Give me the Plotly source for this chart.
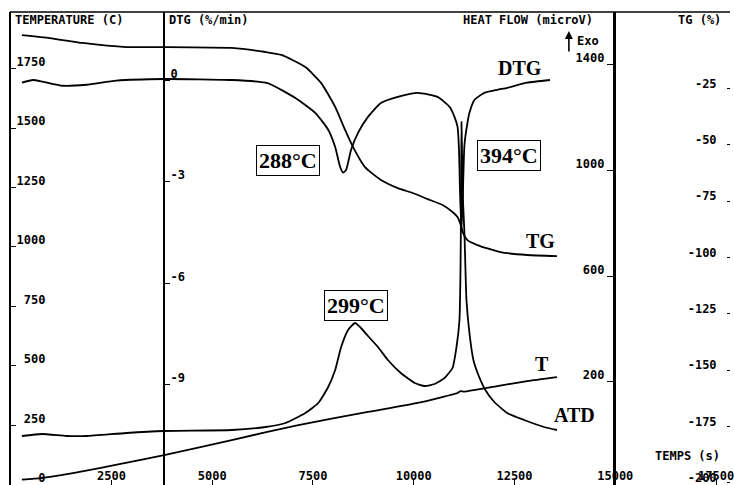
import plotly.graph_objects as go

# ---- data ----
# time axis (s)
t_temp = [279, 772, 1710, 2697, 3807, 5485, 7138, 8865, 10099, 11086, 11160, 11258, 12073, 12813, 13553]
temp = [22, 28, 54, 87, 125, 188, 251, 306, 344, 386, 394, 392, 415, 436, 453]

t_dtg = [279, 550, 797, 1290, 1883, 2623, 3807, 5485, 6324, 6472,
         7064, 7557, 7878, 8051, 8174, 8248, 8322, 8446, 8618, 8865,
         9186, 9605, 10099, 10592, 10888, 11011, 11086, 11123, 11147, 11184,
         11221, 11258, 11332, 11382, 11505, 11752, 12073, 12319, 12813, 13381]
dtg = [-0.07, 0.01, -0.04, -0.16, -0.13, -0.01, 0.04, 0.01, -0.07, -0.13,
       -0.52, -0.96, -1.46, -1.97, -2.56, -2.73, -2.65, -2.05, -1.55, -1.08,
       -0.67, -0.49, -0.37, -0.49, -0.78, -1.08, -1.37, -2.05, -3.24, -4.48,
       -3.24, -1.91, -1.26, -0.96, -0.58, -0.37, -0.28, -0.22, -0.07, 0.01]

t_atd = [279, 772, 1389, 1883, 2869, 3807, 5485, 6324, 6817, 7311,
         7631, 7878, 8051, 8199, 8372, 8544, 8668, 8865, 9112, 9359,
         9679, 10025, 10271, 10518, 10764, 10962, 11061, 11135, 11160, 11175,
         11184, 11197, 11221, 11258, 11308, 11382, 11480, 11604, 11777, 11999,
         12319, 12739, 13232, 13553]
atd = [-4.5, 3.1, -4.5, -4.5, 6.9, 14.4, 18.2, 29.6, 44.7, 82.6,
       120.4, 181.0, 245.3, 332.4, 396.8, 423.3, 408.1, 374.1, 332.4, 283.2,
       234.0, 196.1, 184.8, 192.3, 215.1, 252.9, 332.4, 434.6, 623.9, 888.9,
       1184.2, 1078.0, 888.9, 764.0, 510.3, 385.4, 283.2, 226.4, 169.6, 124.2,
       82.6, 56.1, 29.6, 18.2]

t_tg = [279, 970, 1784, 2869, 3807, 5485, 6324, 6718, 7311, 7705,
        8051, 8297, 8495, 8791, 9186, 9605, 9975, 10345, 10716, 10962,
        11086, 11160, 11234, 11332, 11579, 12147, 12813, 13553]
tg = [-1.3, -2.6, -4.8, -6.6, -6.6, -7.0, -8.8, -10.1, -15.5, -22.6,
      -33.2, -43.4, -51.0, -59.9, -65.6, -69.2, -71.4, -74.1, -76.7, -79.8,
      -82.0, -85.2, -89.6, -92.3, -94.5, -97.6, -98.9, -99.4]

time_ticks = [2500, 5000, 7500, 10000, 12500, 15000, 17500]
time_text = ["2500", "5000", "7500", "10000", "12500", "15000", "17500"]
temp_ticks = [0, 250, 500, 750, 1000, 1250, 1500, 1750]
temp_text = ["0", "250", "500", "750", "1000", "1250", "1500", "1750"]
dtg_ticks = [0, -3, -6, -9]
dtg_text = ["0", "-3", "-6", "-9"]
hf_ticks = [200, 600, 1000, 1400]
tg_ticks = [-25, -50, -75, -100, -125, -150, -175, -200]
tg_text = ["-25", "-50", "-75", "-100", "-125", "-150", "-175", "-200"]

# ---- figure ----
W, H = 734, 485
NB = "\u00a0"
mono = dict(family="DejaVu Sans Mono", size=12, color="black", weight="bold")
serif = dict(family="Liberation Serif", color="black", weight="bold")
lw = dict(color="black", width=1.8, shape="spline", smoothing=0.5)

fig = go.Figure()
fig.add_trace(go.Scatter(x=t_temp, y=temp, yaxis="y", mode="lines", line=lw))
fig.add_trace(go.Scatter(x=t_dtg, y=dtg, yaxis="y2", mode="lines", line=lw))
fig.add_trace(go.Scatter(x=t_atd, y=atd, yaxis="y3", mode="lines", line=lw))
fig.add_trace(go.Scatter(x=t_tg, y=tg, yaxis="y4", mode="lines", line=lw))

common = dict(showgrid=False, zeroline=False, tickfont=mono, tickcolor="black",
              linecolor="black", ticklabeloverflow="allow")

fig.update_layout(
    width=W, height=H, margin=dict(l=0, r=0, t=12, b=0),
    paper_bgcolor="white", plot_bgcolor="white", showlegend=False,
    xaxis=dict(range=[-264, 17846], tickvals=time_ticks, ticktext=time_text,
               ticks="inside", ticklen=5, ticklabelposition="inside",
               ticklabelstandoff=-3, showline=False, **common),
    yaxis=dict(range=[-1, 1988], anchor="free", position=10 / W, side="left",
               showline=True, linewidth=2, ticks="inside", ticklen=5,
               ticklabelposition="inside", ticklabelshift=-7, tickvals=temp_ticks,
               ticktext=[NB * (4 - len(s)) + s for s in temp_text], **common),
    yaxis2=dict(range=[-11.96, 2.02], overlaying="y", anchor="free", position=165 / W,
                side="left", showline=True, linewidth=1.6, ticks="inside", ticklen=5,
                ticklabelposition="inside", ticklabelshift=-7, tickvals=dtg_ticks,
                ticktext=dtg_text, **common),
    yaxis3=dict(range=[-190, 1600.6], overlaying="y", anchor="free", position=617 / W,
                side="left", showline=True, linewidth=2.5, ticks="outside", ticklen=6,
                ticklabelshift=-7, tickvals=hf_ticks, **common),
    yaxis4=dict(range=[-201, 8.95], overlaying="y", anchor="free", position=1,
                side="left", showline=False, ticks="outside", ticklen=3,
                ticklabelshift=-5, ticklabelstandoff=8, tickvals=tg_ticks,
                ticktext=tg_text, **common),
)

fig.add_shape(type="line", xref="paper", yref="paper", x0=10 / W, x1=1, y0=1, y1=1,
              line=dict(color="black", width=1.5))


def py(p):
    return (485 - p) / 473


def px(p):
    return p / W


ann = [
    dict(text="TEMPERATURE (C)", x=px(13), y=py(20), xanchor="left", font=mono),
    dict(text="DTG (%/min)", x=px(168), y=py(20), xanchor="left", font=mono),
    dict(text="HEAT FLOW (microV)", x=px(598), y=py(20), xanchor="right", font=mono),
    dict(text="TG (%)", x=px(727), y=py(20), xanchor="right", font=mono),
    dict(text="Exo", x=px(578), y=py(41), xanchor="left", font=mono),
    dict(text="TEMPS (s)", x=px(657), y=py(456), xanchor="left", font=mono),
    dict(text="DTG", x=px(523), y=py(68), xanchor="center", font=dict(size=20, **serif)),
    dict(text="TG", x=px(543), y=py(241), xanchor="center", font=dict(size=20, **serif)),
    dict(text="T", x=px(545), y=py(364), xanchor="center", font=dict(size=20, **serif)),
    dict(text="ATD", x=px(578), y=py(415), xanchor="center", font=dict(size=20, **serif)),
]
for a in ann:
    a.update(xref="paper", yref="paper", showarrow=False, yanchor="middle")
    fig.add_annotation(**a)

for txt, cx, cy in [("288°C", 290, 160), ("394°C", 512, 155), ("299°C", 358, 306)]:
    fig.add_annotation(text=txt, x=px(cx), y=py(cy), xref="paper", yref="paper",
                       xanchor="center", yanchor="middle", showarrow=False,
                       font=dict(size=22, **serif),
                       bordercolor="black", borderwidth=1, borderpad=2, bgcolor="white")

fig.add_annotation(x=px(572), y=py(31), xref="paper", yref="paper", text="",
                   showarrow=True, ax=0, ay=22, arrowhead=2, arrowsize=1,
                   arrowwidth=1.6, arrowcolor="black")

fig.write_html(
    "out.html",
    config={"displayModeBar": False},
    post_script="document.body.style.margin='0';document.body.style.overflow='hidden';",
)
